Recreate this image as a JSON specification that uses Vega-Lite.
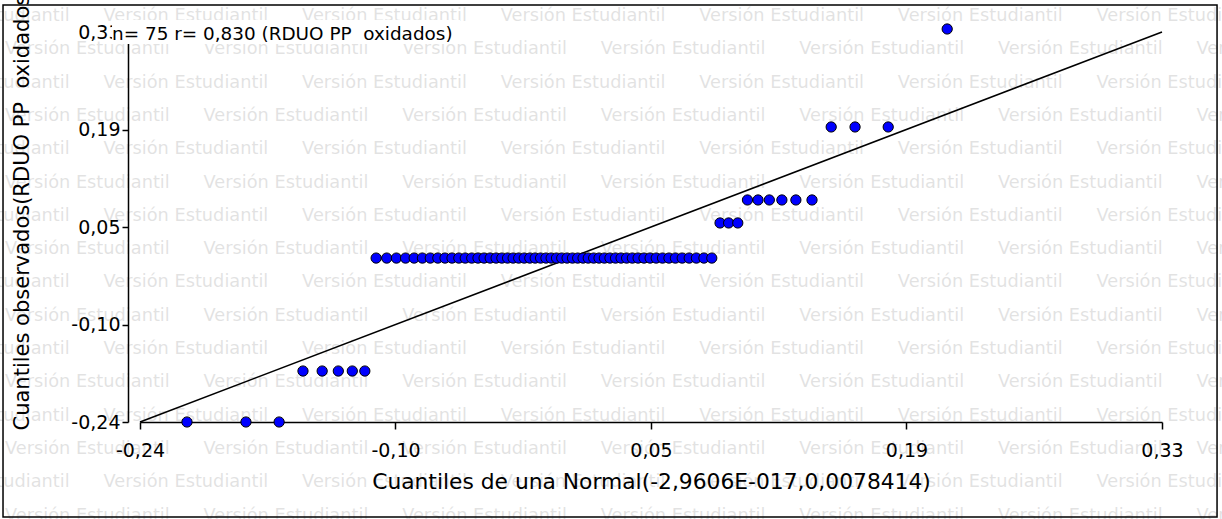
{
  "$schema": "https://vega.github.io/schema/vega-lite/v6.json",
  "width": 1022,
  "height": 390,
  "autosize": {"type": "none"},
  "padding": {"left": 140, "top": 32, "right": 60, "bottom": 97},
  "background": "white",
  "config": {"view": {"stroke": null}, "font": "DejaVu Sans"},
  "datasets": {
    "qq": [
      {"x": -0.2138, "y": -0.24}, {"x": -0.1809, "y": -0.24}, {"x": -0.1624, "y": -0.24},
      {"x": -0.1491, "y": -0.1655}, {"x": -0.1384, "y": -0.1655}, {"x": -0.1294, "y": -0.1655}, {"x": -0.1216, "y": -0.1655}, {"x": -0.1146, "y": -0.1655},
      {"x": -0.1083, "y": -0.0004}, {"x": -0.1024, "y": -0.0004}, {"x": -0.0970, "y": -0.0004}, {"x": -0.0919, "y": -0.0004}, {"x": -0.0871, "y": -0.0004},
      {"x": -0.0825, "y": -0.0004}, {"x": -0.0781, "y": -0.0004}, {"x": -0.0739, "y": -0.0004}, {"x": -0.0699, "y": -0.0004}, {"x": -0.0660, "y": -0.0004},
      {"x": -0.0622, "y": -0.0004}, {"x": -0.0586, "y": -0.0004}, {"x": -0.0550, "y": -0.0004}, {"x": -0.0515, "y": -0.0004}, {"x": -0.0481, "y": -0.0004},
      {"x": -0.0447, "y": -0.0004}, {"x": -0.0414, "y": -0.0004}, {"x": -0.0382, "y": -0.0004}, {"x": -0.0350, "y": -0.0004}, {"x": -0.0319, "y": -0.0004},
      {"x": -0.0288, "y": -0.0004}, {"x": -0.0257, "y": -0.0004}, {"x": -0.0226, "y": -0.0004}, {"x": -0.0196, "y": -0.0004}, {"x": -0.0166, "y": -0.0004},
      {"x": -0.0136, "y": -0.0004}, {"x": -0.0107, "y": -0.0004}, {"x": -0.0077, "y": -0.0004}, {"x": -0.0048, "y": -0.0004}, {"x": -0.0018, "y": -0.0004},
      {"x": 0.0012, "y": -0.0004}, {"x": 0.0041, "y": -0.0004}, {"x": 0.0071, "y": -0.0004}, {"x": 0.0100, "y": -0.0004}, {"x": 0.0130, "y": -0.0004},
      {"x": 0.0160, "y": -0.0004}, {"x": 0.0190, "y": -0.0004}, {"x": 0.0221, "y": -0.0004}, {"x": 0.0252, "y": -0.0004}, {"x": 0.0283, "y": -0.0004},
      {"x": 0.0314, "y": -0.0004}, {"x": 0.0346, "y": -0.0004}, {"x": 0.0378, "y": -0.0004}, {"x": 0.0411, "y": -0.0004}, {"x": 0.0445, "y": -0.0004},
      {"x": 0.0479, "y": -0.0004}, {"x": 0.0514, "y": -0.0004}, {"x": 0.0550, "y": -0.0004}, {"x": 0.0586, "y": -0.0004}, {"x": 0.0624, "y": -0.0004},
      {"x": 0.0663, "y": -0.0004}, {"x": 0.0703, "y": -0.0004}, {"x": 0.0745, "y": -0.0004}, {"x": 0.0789, "y": -0.0004},
      {"x": 0.0835, "y": 0.0509}, {"x": 0.0883, "y": 0.0509}, {"x": 0.0934, "y": 0.0509},
      {"x": 0.0988, "y": 0.0845}, {"x": 0.1047, "y": 0.0845}, {"x": 0.1110, "y": 0.0845}, {"x": 0.1180, "y": 0.0845}, {"x": 0.1258, "y": 0.0845}, {"x": 0.1348, "y": 0.0845},
      {"x": 0.1455, "y": 0.1912}, {"x": 0.1588, "y": 0.1912}, {"x": 0.1773, "y": 0.1912},
      {"x": 0.2102, "y": 0.3344}
    ],
    "ref": [{"x": -0.24, "y": -0.24}, {"x": 0.33, "y": 0.33}],
    "wm": [
      {"x": -0.3711, "y": 0.3534}, {"x": -0.3153, "y": 0.3047},
      {"x": -0.3711, "y": 0.2561}, {"x": -0.3153, "y": 0.2074},
      {"x": -0.3711, "y": 0.1587}, {"x": -0.3153, "y": 0.1100},
      {"x": -0.3711, "y": 0.0614}, {"x": -0.3153, "y": 0.0127},
      {"x": -0.3711, "y": -0.0360}, {"x": -0.3153, "y": -0.0846},
      {"x": -0.3711, "y": -0.1333}, {"x": -0.3153, "y": -0.1820},
      {"x": -0.3711, "y": -0.2306}, {"x": -0.3153, "y": -0.2793},
      {"x": -0.3711, "y": -0.3280}, {"x": -0.3153, "y": -0.3767}
    ],
    "frame": [{"x": -0.3164, "x2": 0.3607, "y": 0.3695, "y2": -0.3788}],
    "box": [{"x": -0.2556, "x2": -0.0615, "y": 0.3475, "y2": 0.3125}],
    "note": [{"x": -0.2556, "y": 0.327, "label": "n= 75 r= 0,830 (RDUO PP\u00a0 oxidados)"}]
  },
  "encoding": {
    "x": {
      "field": "x", "type": "quantitative",
      "scale": {"domain": [-0.24, 0.33], "nice": false, "zero": false},
      "title": "Cuantiles de una Normal(-2,9606E-017,0,0078414)",
      "axis": {
        "values": [-0.24, -0.0975, 0.045, 0.1875, 0.33],
        "labelExpr": "datum.value < -0.2 ? '-0,24' : datum.value < 0 ? '-0,10' : datum.value < 0.1 ? '0,05' : datum.value < 0.25 ? '0,19' : '0,33'",
        "grid": false, "domainColor": "black", "domainWidth": 1.5,
        "tickColor": "black", "tickWidth": 1.5, "tickSize": 7,
        "labelFontSize": 19, "labelColor": "black", "labelPadding": 12,
        "labelFlush": false, "labelOverlap": false,
        "titleFontSize": 21.8, "titleFontWeight": "normal", "titleColor": "black", "titlePadding": 11
      }
    },
    "y": {
      "field": "y", "type": "quantitative",
      "scale": {"domain": [-0.24, 0.33], "nice": false, "zero": false},
      "title": "Cuantiles observados(RDUO PP\u00a0 oxidados)",
      "axis": {
        "values": [-0.24, -0.0975, 0.045, 0.1875, 0.33],
        "labelExpr": "datum.value < -0.2 ? '-0,24' : datum.value < 0 ? '-0,10' : datum.value < 0.1 ? '0,05' : datum.value < 0.25 ? '0,19' : '0,33'",
        "offset": 12,
        "grid": false, "domainColor": "black", "domainWidth": 1.5,
        "tickColor": "black", "tickWidth": 1.5, "tickSize": 6,
        "labelFontSize": 19, "labelColor": "black", "labelPadding": 2,
        "labelFlush": false, "labelOverlap": false,
        "titleFontSize": 21, "titleFontWeight": "normal", "titleColor": "black",
        "titleAnchor": "start", "titleX": -96, "titleY": 398, "titleAngle": 270, "titleAlign": "left", "titleBaseline": "bottom"
      }
    }
  },
  "layer": [
    {
      "data": {"name": "wm"},
      "mark": {"type": "text", "align": "left", "baseline": "middle", "fontSize": 17.75, "fill": "black", "opacity": 0.11,
        "text": "Versión Estudiantil\u00a0\u00a0\u00a0\u00a0\u00a0\u00a0Versión Estudiantil\u00a0\u00a0\u00a0\u00a0\u00a0\u00a0Versión Estudiantil\u00a0\u00a0\u00a0\u00a0\u00a0\u00a0Versión Estudiantil\u00a0\u00a0\u00a0\u00a0\u00a0\u00a0Versión Estudiantil\u00a0\u00a0\u00a0\u00a0\u00a0\u00a0Versión Estudiantil\u00a0\u00a0\u00a0\u00a0\u00a0\u00a0Versión Estudiantil"}
    },
    {
      "data": {"name": "box"},
      "mark": {"type": "rect", "fill": "white", "stroke": null},
      "encoding": {"x2": {"field": "x2"}, "y2": {"field": "y2"}}
    },
    {
      "data": {"name": "frame"},
      "mark": {"type": "rect", "fill": null, "fillOpacity": 0, "stroke": "black", "strokeWidth": 1.5},
      "encoding": {"x2": {"field": "x2"}, "y2": {"field": "y2"}}
    },
    {
      "data": {"name": "ref"},
      "mark": {"type": "line", "color": "black", "strokeWidth": 1.6},
      "encoding": {}
    },
    {
      "data": {"name": "qq"},
      "mark": {"type": "point", "shape": "circle", "filled": true, "fill": "#0000ff", "stroke": "black", "strokeWidth": 1, "size": 105, "opacity": 1}
    },
    {
      "data": {"name": "note"},
      "mark": {"type": "text", "align": "left", "baseline": "middle", "fontSize": 18.4, "fill": "black"},
      "encoding": {"text": {"field": "label"}}
    }
  ]
}
